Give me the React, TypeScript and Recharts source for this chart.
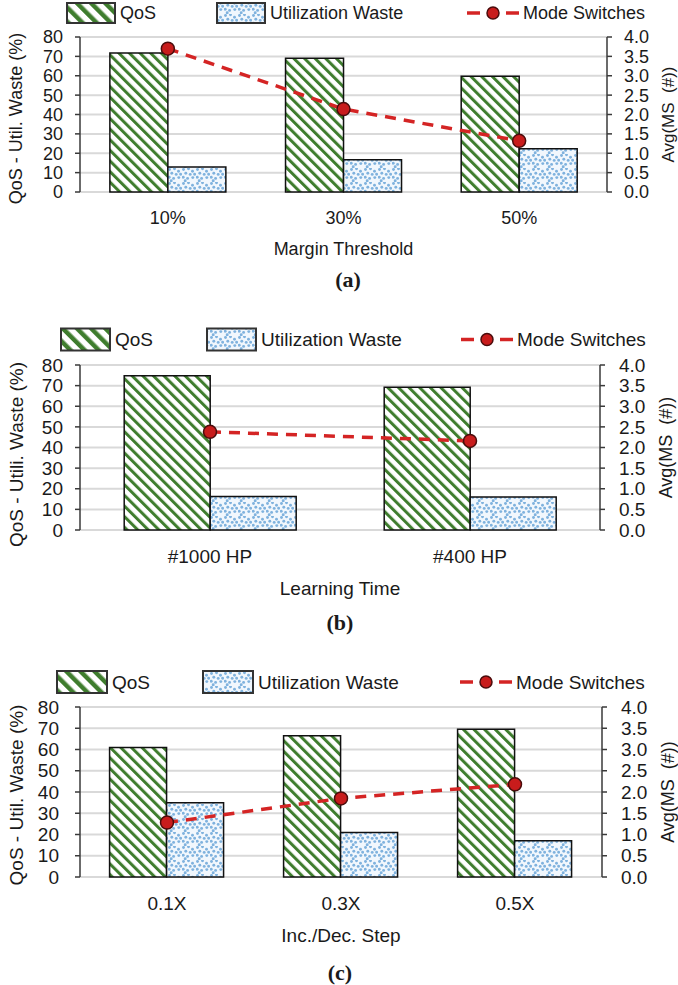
import React from 'react';
import { ComposedChart, Bar, Line, XAxis, YAxis, CartesianGrid, Label } from 'recharts';

// (a) margin threshold
const thresholdCats = ['10%', '30%', '50%'];
const thresholdQos = [71.8, 69, 59.8];
const thresholdWaste = [12.9, 16.6, 22.3];
const thresholdSwitches = [3.7, 2.14, 1.32];

// (b) learning time
const learningCats = ['#1000 HP', '#400 HP'];
const learningQos = [74.8, 69.2];
const learningWaste = [16.2, 16.0];
const learningSwitches = [2.38, 2.16];

// (c) inc./dec. step
const stepCats = ['0.1X', '0.3X', '0.5X'];
const stepQos = [61, 66.5, 69.5];
const stepWaste = [35, 21, 17.1];
const stepSwitches = [1.28, 1.85, 2.18];

const leftTicks = [0, 10, 20, 30, 40, 50, 60, 70, 80];
const rightTicks = [0, 0.5, 1, 1.5, 2, 2.5, 3, 3.5, 4];
const seriesNames = ['QoS', 'Utilization Waste', 'Mode Switches'];

const GREEN = '#3f7d2e';
const DOT = '#7fb2de';
const RED = '#d42424';
const AXIS = '#3a3a3a';
const TEXT = '#1a1a1a';
const FONT = '"Liberation Sans", Arial, sans-serif';

const dotSpots = [
  [1.5, 1.5], [6.5, 0.8], [10.5, 3.2], [3.8, 5.2], [8.2, 6.4],
  [1.2, 9.2], [5.6, 10.4], [10.8, 9.6], [12.6, 6.2], [3.2, 12.8],
];

const Patterns = ({ id, stripe = 7.5 }: { id: string; stripe?: number }) => (
  <defs>
    <pattern id={`stripe-${id}`} patternUnits="userSpaceOnUse" width={stripe} height={stripe} patternTransform="rotate(-45)">
      <rect width={stripe} height={stripe} fill="#ffffff" />
      <rect width={stripe * 0.4} height={stripe} fill={GREEN} />
    </pattern>
    <pattern id={`dots-${id}`} patternUnits="userSpaceOnUse" width={14} height={14}>
      <rect width={14} height={14} fill="#f1f7fd" />
      {dotSpots.map(([cx, cy], i) => (
        <circle key={i} cx={cx} cy={cy} r={1.45} fill={DOT} />
      ))}
    </pattern>
  </defs>
);

type Panel = {
  id: string;
  caption: string;
  xTitle: string;
  yTitle: string;
  cats: string[];
  qos: number[];
  waste: number[];
  ms: number[];
  top: number;
  height: number;
  plotTop: number;
  plotBottom: number;
  plotRight: number;
  xAxisH: number;
  tickFont: number;
  font: number;
  xTickGap: number;
  leftGap: number;
  rightGap: number;
  yTitleX: number;
  yTitleDy: number;
  rTitleOff: number;
  legend: { y: number; qosX: number; utilX: number; modeX: number; w: number; h: number };
  capX: number;
  capY: number;
};

const panels: Panel[] = [
  {
    id: 'a', caption: '(a)', xTitle: 'Margin Threshold', yTitle: 'QoS - Util. Waste (%)',
    cats: thresholdCats, qos: thresholdQos, waste: thresholdWaste, ms: thresholdSwitches,
    top: 0, height: 300, plotTop: 37, plotBottom: 192, plotRight: 607, xAxisH: 62.5,
    tickFont: 18, font: 18, xTickGap: 19, leftGap: 12, rightGap: 12,
    yTitleX: 15.5, yTitleDy: 4, rTitleOff: 10.5,
    legend: { y: 13, qosX: 67, utilX: 217, modeX: 467, w: 48, h: 20 },
    capX: 348, capY: 279,
  },
  {
    id: 'b', caption: '(b)', xTitle: 'Learning Time', yTitle: 'QoS - Utili. Waste (%)',
    cats: learningCats, qos: learningQos, waste: learningWaste, ms: learningSwitches,
    top: 320, height: 300, plotTop: 365, plotBottom: 530, plotRight: 600, xAxisH: 65,
    tickFont: 19, font: 19, xTickGap: 19.5, leftGap: 12, rightGap: 14,
    yTitleX: 16.5, yTitleDy: 7, rTitleOff: 12.5,
    legend: { y: 339.5, qosX: 61, utilX: 207, modeX: 461, w: 49, h: 22 },
    capX: 340, capY: 622,
  },
  {
    id: 'c', caption: '(c)', xTitle: 'Inc./Dec. Step', yTitle: 'QoS - Util. Waste (%)',
    cats: stepCats, qos: stepQos, waste: stepWaste, ms: stepSwitches,
    top: 650, height: 335, plotTop: 707, plotBottom: 877, plotRight: 602, xAxisH: 64.5,
    tickFont: 19, font: 19, xTickGap: 19.2, leftGap: 16, rightGap: 14,
    yTitleX: 16, yTitleDy: 3, rTitleOff: 10.5,
    legend: { y: 682, qosX: 57, utilX: 203, modeX: 460, w: 50, h: 22 },
    capX: 340, capY: 972,
  },
];

const PanelChart = ({ p }: { p: Panel }) => {
  const rows = p.cats.map((cat, i) => ({ cat, qos: p.qos[i], waste: p.waste[i], ms: p.ms[i] }));
  const edges = Array.from({ length: p.cats.length + 1 }, (_, i) => i);
  const rightW = 678 - p.plotRight;
  const marginBottom = p.height - (p.plotBottom - p.top) - p.xAxisH;
  return (
    <div style={{ position: 'absolute', left: 0, top: p.top }}>
      <ComposedChart
        width={678}
        height={p.height}
        data={rows}
        margin={{ top: p.plotTop - p.top, right: 0, bottom: marginBottom, left: 0 }}
        barCategoryGap="17%"
        barGap={0}
      >
        <Patterns id={p.id} />
        <CartesianGrid yAxisId="left" xAxisId="cat" vertical={false} stroke="#d9d9d9" strokeWidth={2} />
        <XAxis
          xAxisId="edge"
          type="number"
          domain={[0, p.cats.length]}
          ticks={edges}
          allowDataOverflow
          interval={0}
          tick={false}
          tickSize={6}
          height={0}
          axisLine={{ stroke: AXIS, strokeWidth: 1.5 }}
          tickLine={{ stroke: AXIS, strokeWidth: 1.5 }}
        />
        <XAxis
          xAxisId="cat"
          dataKey="cat"
          height={p.xAxisH}
          interval={0}
          axisLine={false}
          tickLine={false}
          tickSize={0}
          tickMargin={p.xTickGap}
          tick={{ fill: TEXT, fontSize: p.tickFont }}
        >
          <Label value={p.xTitle} position="insideBottom" offset={0} fill={TEXT} fontSize={p.font} />
        </XAxis>
        <YAxis
          yAxisId="left"
          width={80}
          domain={[0, 80]}
          ticks={leftTicks}
          interval={0}
          tickSize={5}
          tickMargin={p.leftGap}
          axisLine={{ stroke: AXIS, strokeWidth: 1.5 }}
          tickLine={{ stroke: AXIS, strokeWidth: 1.5 }}
          tick={{ fill: TEXT, fontSize: p.tickFont }}
        >
          <Label
            value={p.yTitle}
            angle={-90}
            position="insideLeft"
            offset={p.yTitleX}
            dy={p.yTitleDy}
            fill={TEXT}
            fontSize={p.font}
            style={{ textAnchor: 'middle' }}
          />
        </YAxis>
        <YAxis
          yAxisId="right"
          orientation="right"
          width={rightW}
          domain={[0, 4]}
          ticks={rightTicks}
          interval={0}
          tickSize={5}
          tickMargin={p.rightGap}
          tickFormatter={(v: number) => v.toFixed(1)}
          axisLine={{ stroke: AXIS, strokeWidth: 1.5 }}
          tickLine={{ stroke: AXIS, strokeWidth: 1.5 }}
          tick={{ fill: TEXT, fontSize: p.tickFont }}
        >
          <Label
            value={'Avg(MS\u00a0\u00a0(#))'}
            angle={-90}
            position="insideRight"
            offset={p.rTitleOff}
            fill={TEXT}
            fontSize={p.font - 1}
            style={{ textAnchor: 'middle' }}
          />
        </YAxis>
        <Bar
          xAxisId="cat"
          yAxisId="left"
          dataKey="qos"
          name={seriesNames[0]}
          fill={`url(#stripe-${p.id})`}
          stroke="#111"
          strokeWidth={1.5}
          isAnimationActive={false}
        />
        <Bar
          xAxisId="cat"
          yAxisId="left"
          dataKey="waste"
          name={seriesNames[1]}
          fill={`url(#dots-${p.id})`}
          stroke="#111"
          strokeWidth={1.5}
          isAnimationActive={false}
        />
        <Line
          xAxisId="cat"
          yAxisId="right"
          dataKey="ms"
          name={seriesNames[2]}
          stroke={RED}
          strokeWidth={3.5}
          strokeDasharray="11 8"
          dot={{ r: 6.5, fill: '#c81c1c', stroke: '#4a0c0c', strokeWidth: 1.5, strokeDasharray: '' }}
          isAnimationActive={false}
        />
      </ComposedChart>
    </div>
  );
};

const LegendAndCaption = ({ p }: { p: Panel }) => {
  const L = p.legend;
  const top = L.y - L.h / 2;
  return (
    <g fontSize={p.font} fill={TEXT}>
      <rect x={L.qosX} y={top} width={L.w} height={L.h} fill={`url(#lstripe-${p.id})`} stroke="#333" strokeWidth={2} />
      <text x={L.qosX + L.w + 5} y={L.y} dominantBaseline="central">{seriesNames[0]}</text>
      <rect x={L.utilX} y={top} width={L.w} height={L.h} fill={`url(#dots-${p.id})`} stroke="#333" strokeWidth={2} />
      <text x={L.utilX + L.w + 5} y={L.y} dominantBaseline="central">{seriesNames[1]}</text>
      <line x1={L.modeX} x2={L.modeX + 13} y1={L.y} y2={L.y} stroke={RED} strokeWidth={3.5} />
      <line x1={L.modeX + 39} x2={L.modeX + 52} y1={L.y} y2={L.y} stroke={RED} strokeWidth={3.5} />
      <circle cx={L.modeX + 26} cy={L.y} r={6} fill="#c81c1c" stroke="#4a0c0c" strokeWidth={1.5} />
      <text x={L.modeX + 56} y={L.y} dominantBaseline="central">{seriesNames[2]}</text>
      <text
        x={p.capX}
        y={p.capY}
        textAnchor="middle"
        dominantBaseline="central"
        fontFamily='"Liberation Serif", serif'
        fontWeight="bold"
        fontSize={22}
      >
        {p.caption}
      </text>
    </g>
  );
};

export default function App() {
  return (
    <div
      style={{
        position: 'absolute',
        left: 0,
        top: 0,
        width: 678,
        height: 985,
        background: '#fff',
        fontFamily: FONT,
      }}
    >
      {panels.map((p) => (
        <PanelChart key={p.id} p={p} />
      ))}
      <svg width={678} height={985} style={{ position: 'absolute', left: 0, top: 0, pointerEvents: 'none' }}>
        <defs>
          {panels.map((p) => (
            <pattern key={p.id} id={`lstripe-${p.id}`} patternUnits="userSpaceOnUse" width={10} height={10} patternTransform="rotate(-45)">
              <rect width={10} height={10} fill="#fff" />
              <rect width={4.5} height={10} fill={GREEN} />
            </pattern>
          ))}
        </defs>
        {panels.map((p) => (
          <LegendAndCaption key={p.id} p={p} />
        ))}
      </svg>
    </div>
  );
}
